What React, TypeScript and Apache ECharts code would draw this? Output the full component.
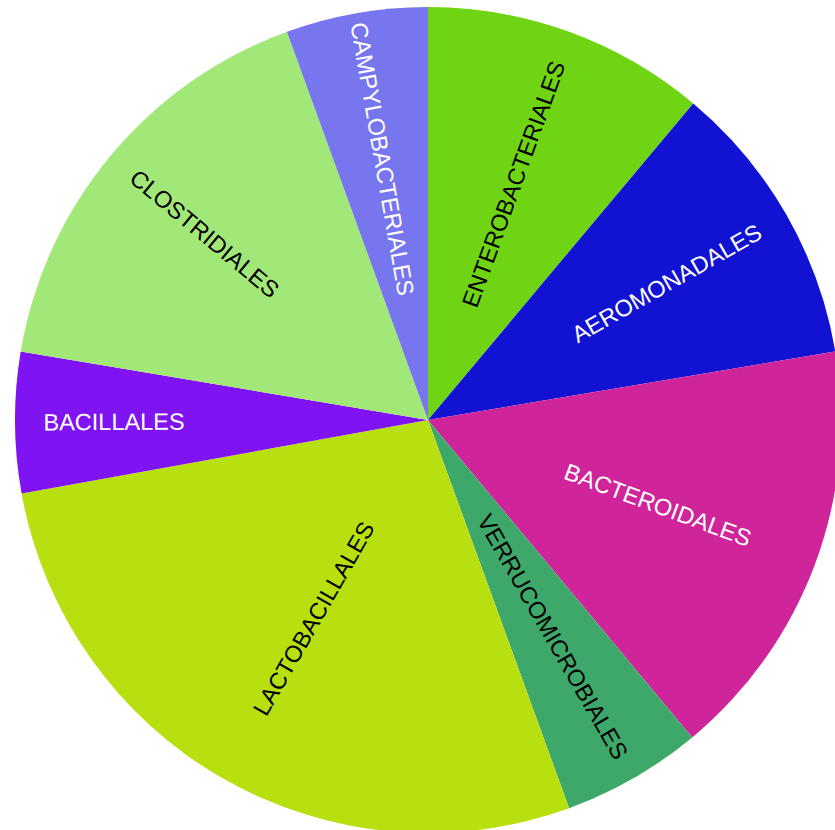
import React, { useEffect, useRef } from "react";
import * as echarts from "echarts";

const categories = [
  "ENTEROBACTERIALES",
  "AEROMONADALES",
  "BACTEROIDALES",
  "VERRUCOMICROBIALES",
  "LACTOBACILLALES",
  "BACILLALES",
  "CLOSTRIDIALES",
  "CAMPYLOBACTERIALES",
];
const shares = [11.1, 11.25, 16.6, 5.5, 27.7, 5.5, 16.8, 5.55];

const sliceColors = ["#6fd414", "#1212d2", "#d0259a", "#3ea86a", "#b8e010", "#8013f2", "#a2e878", "#7876ee"];
const labelColors = ["#000", "#fff", "#fff", "#000", "#000", "#fff", "#000", "#fff"];
const labelRadii = [248, 272, 242, 247, 226, 311, 288, 262];

const CX = 428;
const CY = 420;
const R = 413;

export default function App() {
  const ref = useRef<HTMLDivElement>(null);
  useEffect(() => {
    if (!ref.current) return;
    const chart = echarts.init(ref.current, null, { renderer: "svg" });
    const baseData = categories.map((name, i) => ({
      name,
      value: shares[i],
      itemStyle: { color: sliceColors[i] },
    }));
    const labelSeries = categories.map((_, k) => ({
      type: "pie" as const,
      center: [CX, CY],
      radius: [2 * labelRadii[k] - R, R],
      startAngle: 90,
      clockwise: true,
      silent: true,
      z: 3,
      labelLine: { show: false },
      itemStyle: { color: "rgba(0,0,0,0)", borderWidth: 0 },
      data: categories.map((name, i) => ({
        name,
        value: shares[i],
        label: {
          show: i === k,
          position: "inside",
          rotate: "radial",
          color: labelColors[i],
          fontSize: 23.5,
          fontFamily: "'Liberation Sans', Arial, sans-serif",
          formatter: "{b}",
        },
      })),
    }));
    chart.setOption({
      animation: false,
      backgroundColor: "#ffffff",
      series: [
        {
          type: "pie",
          center: [CX, CY],
          radius: [0, R],
          startAngle: 90,
          clockwise: true,
          label: { show: false },
          labelLine: { show: false },
          itemStyle: { borderWidth: 0 },
          data: baseData,
        },
        ...labelSeries,
      ],
    });
    return () => chart.dispose();
  }, []);
  return (
    <div
      ref={ref}
      style={{ position: "absolute", left: 0, top: 0, width: 835, height: 830 }}
    />
  );
}
